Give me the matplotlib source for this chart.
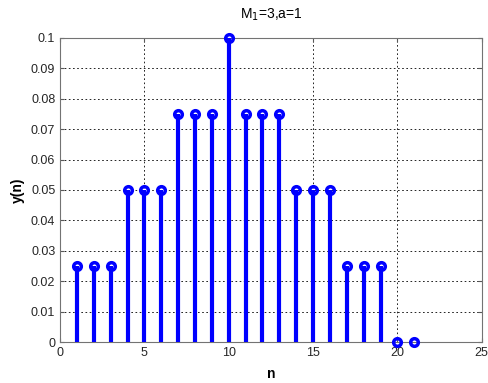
import numpy as np
import matplotlib.pyplot as plt

plt.rcParams['font.family'] = ['Liberation Sans', 'DejaVu Sans']

n = [1, 2, 3, 4, 5, 6, 7, 8, 9, 10, 11, 12, 13, 14, 15, 16, 17, 18, 19, 20, 21]
y = [0.025, 0.025, 0.025, 0.05, 0.05, 0.05, 0.075, 0.075, 0.075, 0.1,
     0.075, 0.075, 0.075, 0.05, 0.05, 0.05, 0.025, 0.025, 0.025, 0, 0]

fig = plt.figure(figsize=(4.89, 3.83), dpi=100)
ax = fig.add_axes([0.123, 0.107, 0.862, 0.794])

ml, sl, bl = ax.stem(n, y, linefmt='b-', markerfmt='bo', basefmt=' ')
sl.set_linewidth(3)
ml.set_markerfacecolor('none')
ml.set_markeredgewidth(2.5)
ml.set_markersize(5.5)
for s in [ml, sl]:
    s.set_clip_on(False)
    s.set_zorder(3)

ax.set_xlim(0, 25)
ax.set_ylim(0, 0.1)
ax.set_xticks([0, 5, 10, 15, 20, 25])
ax.set_yticks(np.arange(0, 0.1001, 0.01))
ax.set_yticklabels(['0', '0.01', '0.02', '0.03', '0.04', '0.05', '0.06',
                    '0.07', '0.08', '0.09', '0.1'])
ax.grid(True, color='black', linestyle=(0, (2, 3)), linewidth=0.6)
ax.tick_params(direction='in', labelsize=9, length=3, colors='0.35',
               labelcolor='0.15', top=True, right=True)
for sp in ax.spines.values():
    sp.set_color('0.45')

ax.set_xlabel('n', fontsize=10, fontweight='bold', labelpad=6)
ax.set_ylabel('y(n)', fontsize=10, fontweight='bold', labelpad=4)
ax.set_title('M$_1$=3,a=1', fontsize=10, pad=14)

fig.savefig('out.png', dpi=100)
